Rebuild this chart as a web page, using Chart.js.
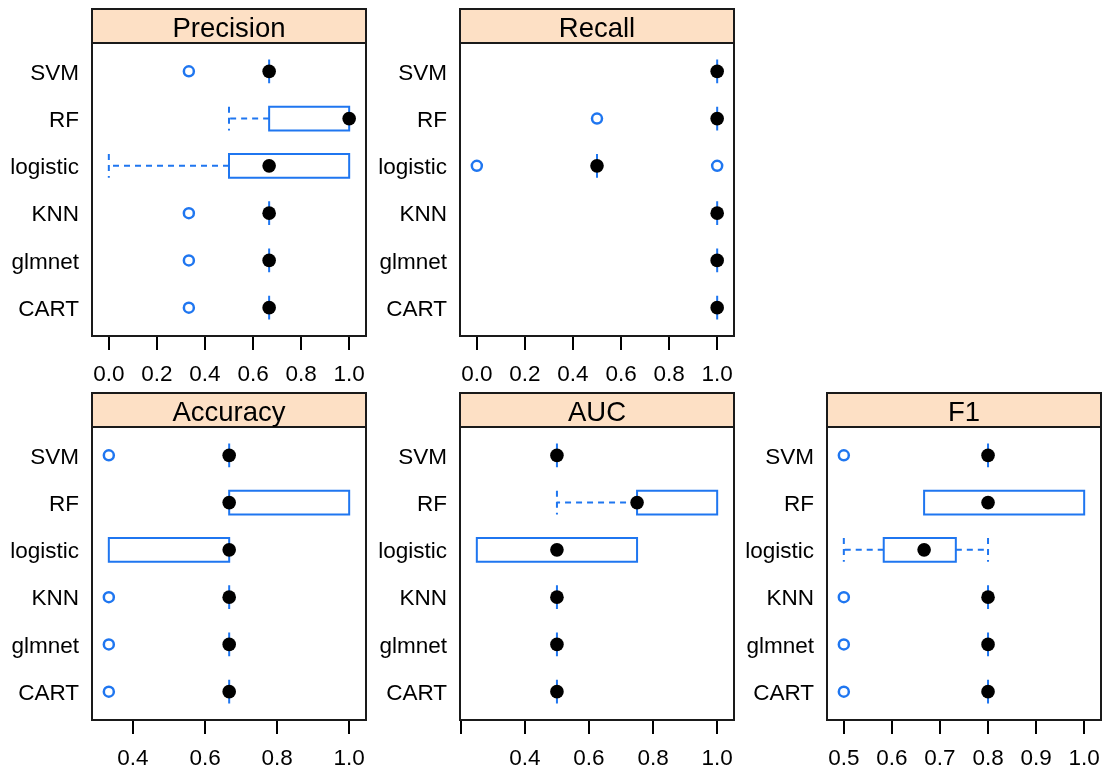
<!DOCTYPE html>
<html>
<head>
<meta charset="utf-8">
<script src="https://cdn.jsdelivr.net/npm/chart.js@4"></script>
<style>
  html, body { margin: 0; padding: 0; background: #fff; }
  #wrap { position: relative; width: 1105px; height: 769px; overflow: hidden; background: #fff; }
  #wrap canvas { position: absolute; }
</style>
</head>
<body>
<div id="wrap"></div>
<script>
// Model names, listed top to bottom in every panel
const models = ['SVM', 'RF', 'logistic', 'KNN', 'glmnet', 'CART'];

// Box-and-whisker summaries per model: [lower whisker, Q1, median, Q3, upper whisker]
const precisionStats = [
  [0.667, 0.667, 0.667, 0.667, 0.667],
  [0.5,   0.667, 1.0,   1.0,   1.0],
  [0.0,   0.5,   0.667, 1.0,   1.0],
  [0.667, 0.667, 0.667, 0.667, 0.667],
  [0.667, 0.667, 0.667, 0.667, 0.667],
  [0.667, 0.667, 0.667, 0.667, 0.667]
];
const precisionOutliers = [['SVM', 0.333], ['KNN', 0.333], ['glmnet', 0.333], ['CART', 0.333]];

const recallStats = [
  [1.0, 1.0, 1.0, 1.0, 1.0],
  [1.0, 1.0, 1.0, 1.0, 1.0],
  [0.5, 0.5, 0.5, 0.5, 0.5],
  [1.0, 1.0, 1.0, 1.0, 1.0],
  [1.0, 1.0, 1.0, 1.0, 1.0],
  [1.0, 1.0, 1.0, 1.0, 1.0]
];
const recallOutliers = [['RF', 0.5], ['logistic', 0.0], ['logistic', 1.0]];

const accuracyStats = [
  [0.667, 0.667, 0.667, 0.667, 0.667],
  [0.667, 0.667, 0.667, 1.0,   1.0],
  [0.333, 0.333, 0.667, 0.667, 0.667],
  [0.667, 0.667, 0.667, 0.667, 0.667],
  [0.667, 0.667, 0.667, 0.667, 0.667],
  [0.667, 0.667, 0.667, 0.667, 0.667]
];
const accuracyOutliers = [['SVM', 0.333], ['KNN', 0.333], ['glmnet', 0.333], ['CART', 0.333]];

const aucStats = [
  [0.5,  0.5,  0.5,  0.5,  0.5],
  [0.5,  0.75, 0.75, 1.0,  1.0],
  [0.25, 0.25, 0.5,  0.75, 0.75],
  [0.5,  0.5,  0.5,  0.5,  0.5],
  [0.5,  0.5,  0.5,  0.5,  0.5],
  [0.5,  0.5,  0.5,  0.5,  0.5]
];
const aucOutliers = [];

const f1Stats = [
  [0.8,   0.8,   0.8,   0.8,   0.8],
  [0.667, 0.667, 0.8,   1.0,   1.0],
  [0.5,   0.583, 0.667, 0.733, 0.8],
  [0.8,   0.8,   0.8,   0.8,   0.8],
  [0.8,   0.8,   0.8,   0.8,   0.8],
  [0.8,   0.8,   0.8,   0.8,   0.8]
];
const f1Outliers = [['SVM', 0.5], ['KNN', 0.5], ['glmnet', 0.5], ['CART', 0.5]];

// Axis tick positions and their labels
const unitTicks = [0.0, 0.2, 0.4, 0.6, 0.8, 1.0];
const unitTickLabels = ['0.0', '0.2', '0.4', '0.6', '0.8', '1.0'];
const accuracyTicks = [0.4, 0.6, 0.8, 1.0];
const accuracyTickLabels = ['0.4', '0.6', '0.8', '1.0'];
const aucTicks = [0.2, 0.4, 0.6, 0.8, 1.0];
const aucTickLabels = ['', '0.4', '0.6', '0.8', '1.0'];
const f1Ticks = [0.5, 0.6, 0.7, 0.8, 0.9, 1.0];
const f1TickLabels = ['0.5', '0.6', '0.7', '0.8', '0.9', '1.0'];

// ---- styling ----
const BLUE = '#1f76f0';
const STRIP_FILL = '#fde0c5';
const FRAME = '#1a1a1a';
const CANVAS_W = 374, CANVAS_H = 384;
const AXIS_W = 92;      // room for model names left of each panel
const STRIP_TOP = 9;    // space above the strip
const STRIP_H = 34;     // height of the title strip
const XAXIS_H = 48;     // tick marks + tick labels below each panel
const PAD_RIGHT = 8;

Chart.defaults.font.family = '"Liberation Sans", Arial, Helvetica, sans-serif';
Chart.defaults.color = '#000';

const panels = [
  { title: 'Precision', stats: precisionStats, outliers: precisionOutliers, ticks: unitTicks, labels: unitTickLabels, left: 0, top: 0 },
  { title: 'Recall', stats: recallStats, outliers: recallOutliers, ticks: unitTicks, labels: unitTickLabels, left: 368, top: 0 },
  { title: 'Accuracy', stats: accuracyStats, outliers: accuracyOutliers, ticks: accuracyTicks, labels: accuracyTickLabels, left: 0, top: 384 },
  { title: 'AUC', stats: aucStats, outliers: aucOutliers, ticks: aucTicks, labels: aucTickLabels, left: 368, top: 384 },
  { title: 'F1', stats: f1Stats, outliers: f1Outliers, ticks: f1Ticks, labels: f1TickLabels, left: 735, top: 384 }
];

// Boxes, whiskers, title strip and frame, drawn through the chart's scales
const boxWhiskerPlugin = {
  id: 'boxWhisker',
  beforeDatasetsDraw(chart, args, opts) {
    const { ctx, scales: { x, y } } = chart;
    const px = v => x.getPixelForValue(v);
    ctx.save();
    ctx.strokeStyle = BLUE;
    ctx.lineWidth = 2;
    opts.stats.forEach((s, i) => {
      const [lo, q1, , q3, hi] = s;
      const yTop = y.getPixelForValue(i + 1 - 0.25);
      const yBot = y.getPixelForValue(i + 1 + 0.25);
      const yMid = y.getPixelForValue(i + 1);
      ctx.setLineDash([]);
      ctx.beginPath();
      ctx.rect(px(q1), yTop, px(q3) - px(q1), yBot - yTop);
      ctx.stroke();
      ctx.setLineDash([6, 5]);
      if (lo < q1) {
        ctx.beginPath();
        ctx.moveTo(px(q1), yMid); ctx.lineTo(px(lo), yMid);
        ctx.moveTo(px(lo), yTop); ctx.lineTo(px(lo), yBot);
        ctx.stroke();
      }
      if (hi > q3) {
        ctx.beginPath();
        ctx.moveTo(px(q3), yMid); ctx.lineTo(px(hi), yMid);
        ctx.moveTo(px(hi), yTop); ctx.lineTo(px(hi), yBot);
        ctx.stroke();
      }
    });
    ctx.restore();
  },
  afterDraw(chart, args, opts) {
    const { ctx, chartArea: a } = chart;
    const sTop = a.top - STRIP_H;
    ctx.save();
    ctx.fillStyle = STRIP_FILL;
    ctx.fillRect(a.left, sTop, a.right - a.left, STRIP_H);
    ctx.strokeStyle = FRAME;
    ctx.lineWidth = 2;
    ctx.strokeRect(a.left, sTop, a.right - a.left, a.bottom - sTop);
    ctx.beginPath();
    ctx.moveTo(a.left, a.top); ctx.lineTo(a.right, a.top);
    ctx.stroke();
    ctx.fillStyle = '#000';
    ctx.font = '27.5px "Liberation Sans", Arial, sans-serif';
    ctx.textAlign = 'center';
    ctx.textBaseline = 'alphabetic';
    ctx.fillText(opts.title, (a.left + a.right) / 2, a.top - 6.5);
    ctx.restore();
  }
};

const wrap = document.getElementById('wrap');

panels.forEach(p => {
  const canvas = document.createElement('canvas');
  canvas.width = CANVAS_W;
  canvas.height = CANVAS_H;
  canvas.style.left = p.left + 'px';
  canvas.style.top = p.top + 'px';
  canvas.style.width = CANVAS_W + 'px';
  canvas.style.height = CANVAS_H + 'px';
  wrap.appendChild(canvas);

  // x range: all plotted values, widened by 7% on each side
  const vals = p.stats.flat().concat(p.outliers.map(o => o[1]));
  const vMin = Math.min(...vals), vMax = Math.max(...vals);
  const ext = (vMax - vMin) * 0.07;

  const medians = p.stats.map((s, i) => ({ x: s[2], y: i + 1 }));
  const outs = p.outliers.map(([m, v]) => ({ x: v, y: models.indexOf(m) + 1 }));

  new Chart(canvas, {
    type: 'scatter',
    data: {
      datasets: [
        {
          label: 'median',
          data: medians,
          pointRadius: 6.8,
          pointBackgroundColor: '#000',
          pointBorderWidth: 0,
          clip: false
        },
        {
          label: 'outlier',
          data: outs,
          pointRadius: 5,
          pointBackgroundColor: 'rgba(0,0,0,0)',
          pointBorderColor: BLUE,
          pointBorderWidth: 2.5,
          clip: false
        }
      ]
    },
    options: {
      responsive: false,
      animation: false,
      devicePixelRatio: 1,
      events: [],
      layout: { padding: { top: STRIP_TOP + STRIP_H, right: PAD_RIGHT, left: 0, bottom: 0 } },
      plugins: {
        legend: { display: false },
        tooltip: { enabled: false },
        boxWhisker: { stats: p.stats, title: p.title }
      },
      scales: {
        x: {
          type: 'linear',
          min: vMin - ext,
          max: vMax + ext,
          afterBuildTicks: s => { s.ticks = p.ticks.map(v => ({ value: v })); },
          afterFit: s => { s.height = XAXIS_H; s.paddingLeft = 0; s.paddingRight = 0; },
          ticks: {
            callback: (v, i) => p.labels[i],
            autoSkip: false,
            maxRotation: 0,
            padding: 11,
            font: { size: 22.5 },
            color: '#000'
          },
          grid: { drawOnChartArea: false, drawTicks: true, tickLength: 14, color: '#000', lineWidth: 2 },
          border: { display: false }
        },
        y: {
          type: 'linear',
          min: 0.4,
          max: 6.6,
          reverse: true,
          afterBuildTicks: s => { s.ticks = models.map((m, i) => ({ value: i + 1 })); },
          afterFit: s => { s.width = AXIS_W; s.paddingTop = 0; s.paddingBottom = 0; },
          ticks: {
            callback: v => models[Math.round(v) - 1],
            autoSkip: false,
            padding: 13,
            labelOffset: 2,
            font: { size: 22.5 },
            color: '#000'
          },
          grid: { display: false, drawTicks: false },
          border: { display: false }
        }
      }
    },
    plugins: [boxWhiskerPlugin]
  });
});
</script>
</body>
</html>
